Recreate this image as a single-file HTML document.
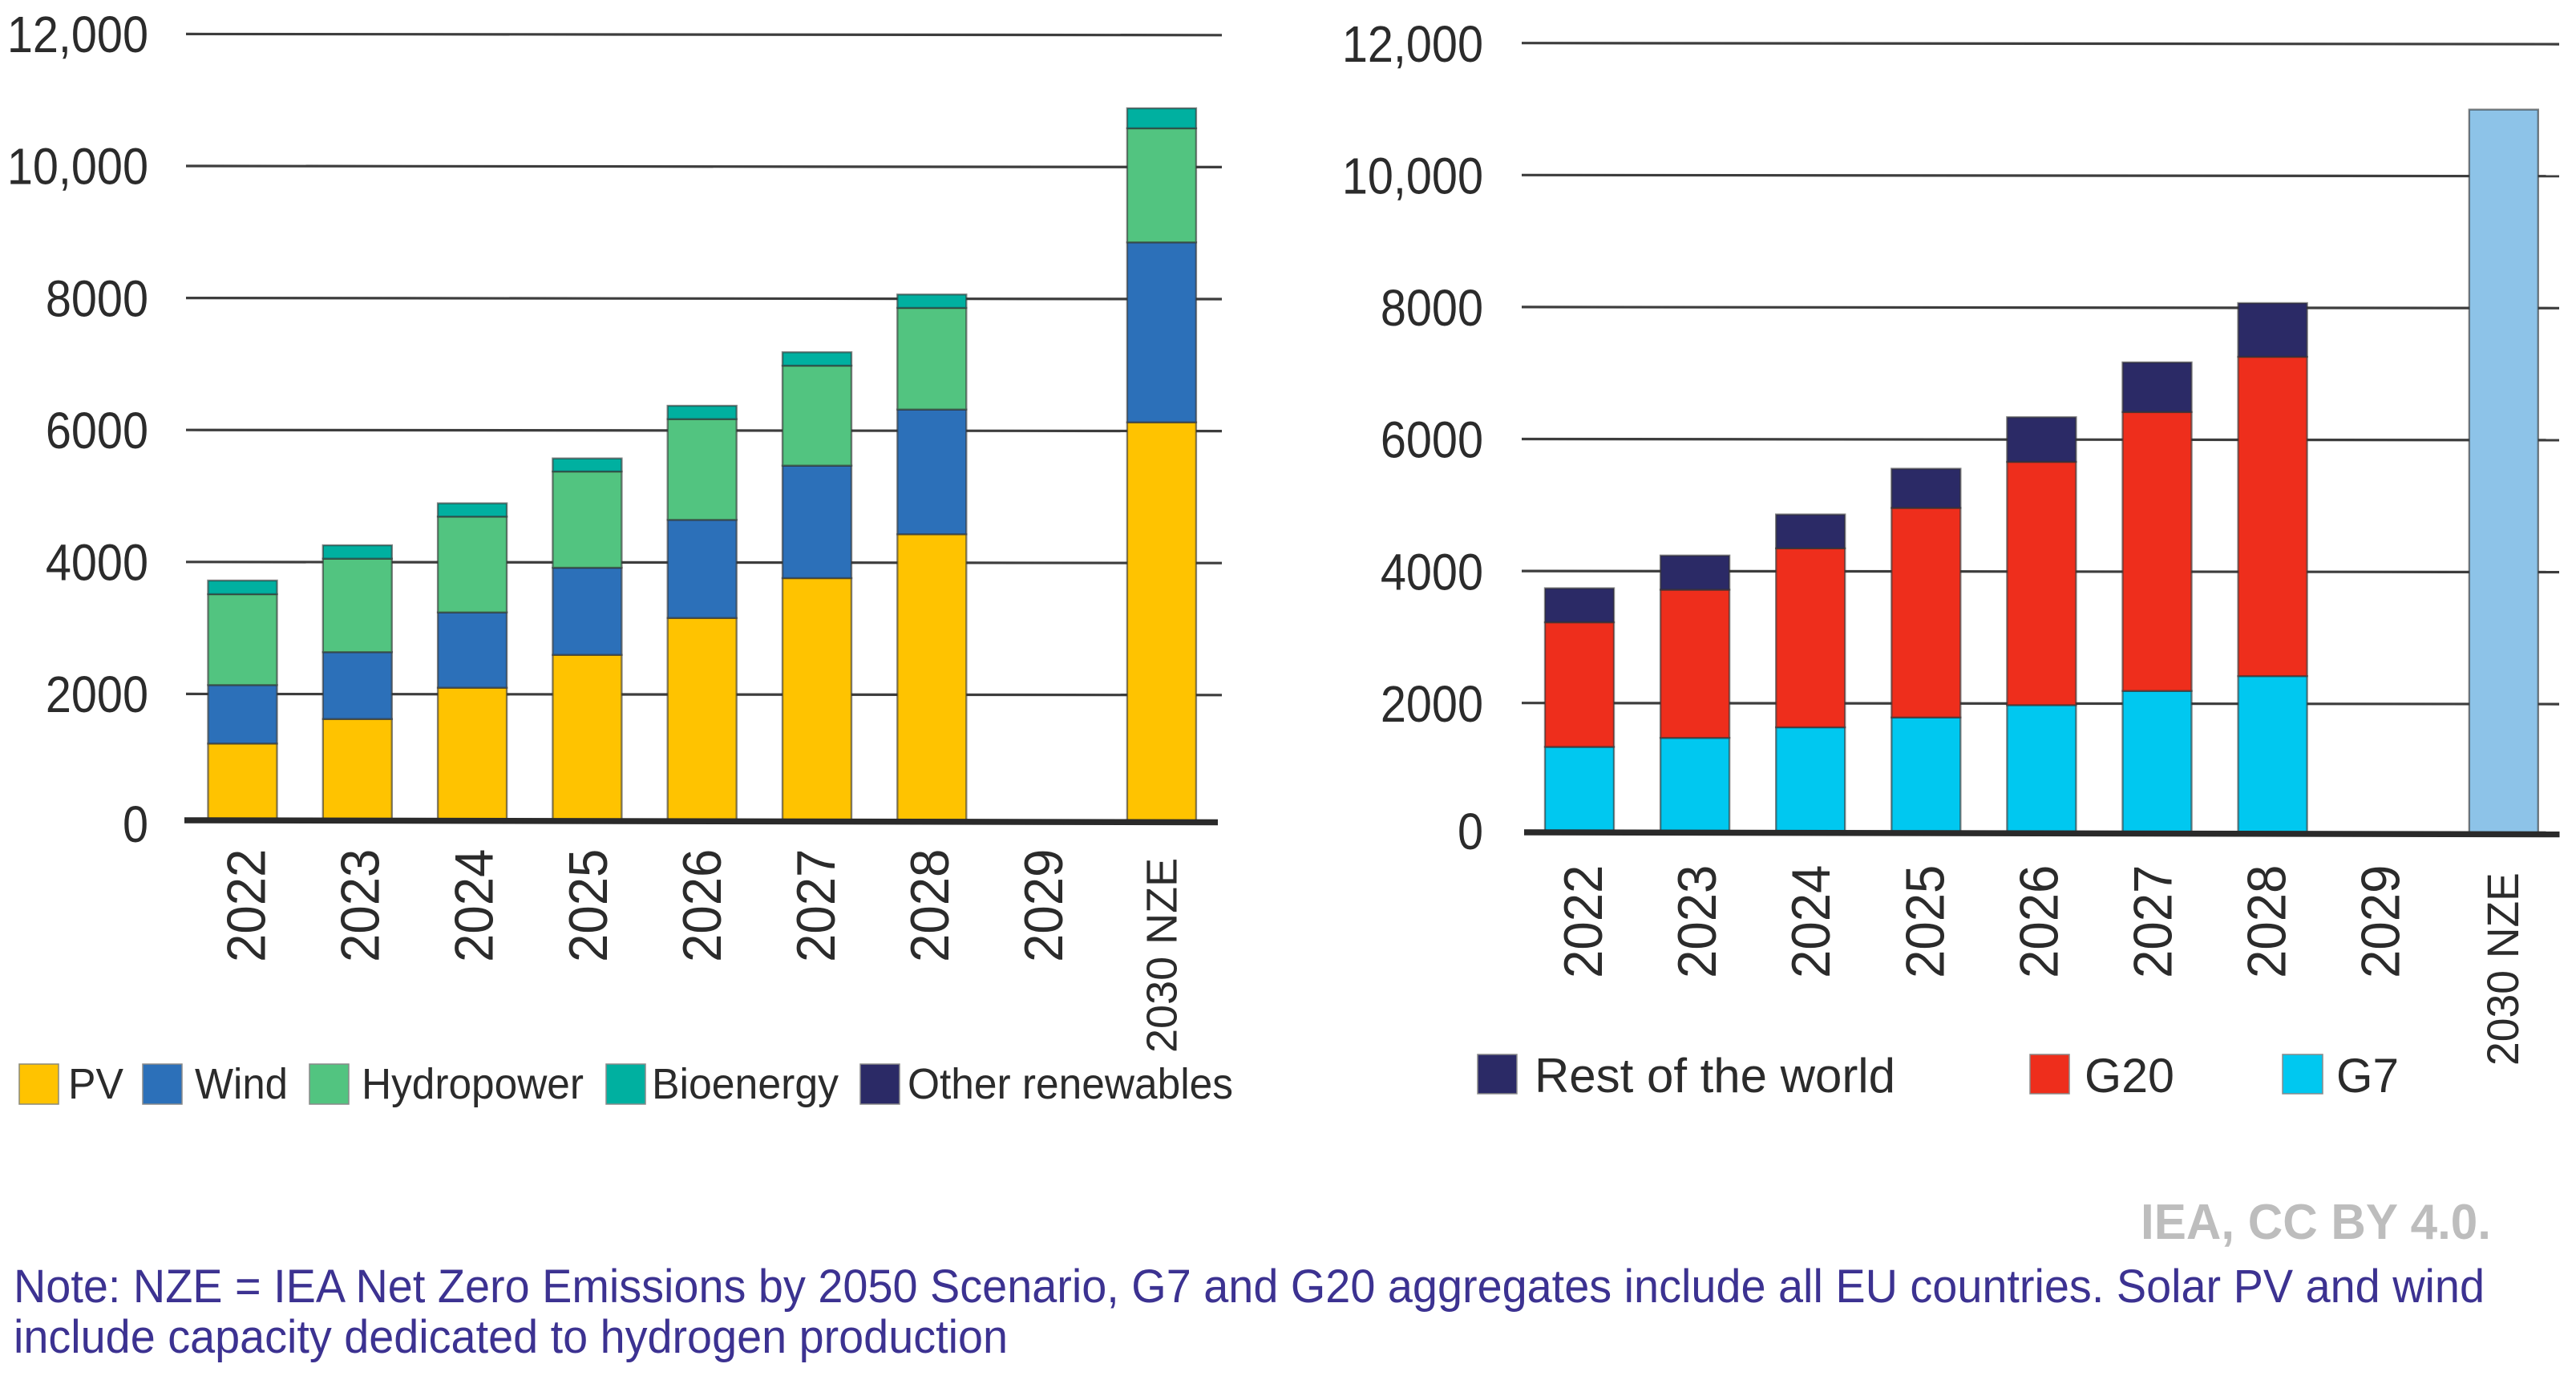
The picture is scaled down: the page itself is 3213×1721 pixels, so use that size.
<!DOCTYPE html>
<html lang="en">
<head>
<meta charset="utf-8">
<title>Renewable capacity charts</title>
<style>
html,body{margin:0;padding:0;background:#fff;}
svg{display:block;}
text{font-family:"Liberation Sans",sans-serif;fill:#2b2b2b;}
</style>
</head>
<body>
<svg id="canvas" xmlns="http://www.w3.org/2000/svg" width="3213" height="1721" viewBox="0 0 3213 1721">
  <rect x="0" y="0" width="3213" height="1721" fill="#ffffff"/>
  <g id="left-chart"></g>
  <g id="right-chart"></g>

  <g>
    <g>
      <rect x="24" y="1327" width="49" height="50" fill="#FFC300" stroke="#8a8a7a" stroke-width="1.5"/>
      <text x="85" y="1370" font-size="54" textLength="69" lengthAdjust="spacingAndGlyphs">PV</text>
    </g>
    <g>
      <rect x="178" y="1327" width="49" height="50" fill="#2C70B9" stroke="#8a8a8a" stroke-width="1.5"/>
      <text x="243" y="1370" font-size="54" textLength="116" lengthAdjust="spacingAndGlyphs">Wind</text>
    </g>
    <g>
      <rect x="386" y="1327" width="49" height="50" fill="#52C480" stroke="#8a8a8a" stroke-width="1.5"/>
      <text x="451" y="1370" font-size="54" textLength="277" lengthAdjust="spacingAndGlyphs">Hydropower</text>
    </g>
    <g>
      <rect x="756" y="1327" width="49" height="50" fill="#00B0A0" stroke="#8a8a8a" stroke-width="1.5"/>
      <text x="813" y="1370" font-size="54" textLength="233" lengthAdjust="spacingAndGlyphs">Bioenergy</text>
    </g>
    <g>
      <rect x="1073" y="1327" width="49" height="50" fill="#2B2A66" stroke="#8a8a8a" stroke-width="1.5"/>
      <text x="1132" y="1370" font-size="54" textLength="406" lengthAdjust="spacingAndGlyphs">Other renewables</text>
    </g>
  </g>

  <g>
    <g>
      <rect x="1843" y="1315" width="49" height="49" fill="#2B2A66" stroke="#8a8a8a" stroke-width="1.5"/>
      <text x="1914" y="1362" font-size="60" textLength="450" lengthAdjust="spacingAndGlyphs">Rest of the world</text>
    </g>
    <g>
      <rect x="2532" y="1315" width="49" height="49" fill="#EE2E1C" stroke="#8a8a8a" stroke-width="1.5"/>
      <text x="2600" y="1362" font-size="60" textLength="112" lengthAdjust="spacingAndGlyphs">G20</text>
    </g>
    <g>
      <rect x="2847" y="1315" width="50" height="49" fill="#00C8F0" stroke="#8a8a8a" stroke-width="1.5"/>
      <text x="2914" y="1362" font-size="60" textLength="78" lengthAdjust="spacingAndGlyphs">G7</text>
    </g>
  </g>

  <text x="2670" y="1545" font-size="62" font-weight="bold" style="fill:#BDBDBD" textLength="437" lengthAdjust="spacingAndGlyphs">IEA, CC BY 4.0.</text>
  <text x="17" y="1624" font-size="58" style="fill:#3C3291" textLength="3082" lengthAdjust="spacingAndGlyphs">Note: NZE = IEA Net Zero Emissions by 2050 Scenario, G7 and G20 aggregates include all EU countries. Solar PV and wind</text>
  <text x="17" y="1687" font-size="58" style="fill:#3C3291" textLength="1240" lengthAdjust="spacingAndGlyphs">include capacity dedicated to hydrogen production</text>
</svg>

<script>
// Shared axis data
const categories = ['2022', '2023', '2024', '2025', '2026', '2027', '2028', '2029', '2030 NZE'];
const tickValues = [0, 2000, 4000, 6000, 8000, 10000, 12000];
const tickLabels = ['0', '2000', '4000', '6000', '8000', '10,000', '12,000'];

// Left chart series
const pvValues = [1256, 1628, 2102, 2600, 3159, 3763, 4428, 0, 6124];
const windValues = [887, 1014, 1142, 1321, 1487, 1705, 1890, 0, 2727];
const hydroValues = [1377, 1416, 1451, 1458, 1527, 1515, 1540, 0, 1729];
const bioValues = [207, 203, 202, 198, 202, 203, 203, 0, 303];
const otherValues = [0, 0, 0, 0, 0, 0, 0, 0, 0];

// Right chart series
const g7Values = [1343, 1480, 1640, 1789, 1976, 2191, 2416, 0, 0];
const g20Values = [1888, 2245, 2712, 3175, 3686, 4226, 4838, 0, 0];
const restValues = [516, 518, 513, 594, 677, 753, 814, 0, 0];
const nzeValues = [0, 0, 0, 0, 0, 0, 0, 0, 11000];

const SVGNS = 'http://www.w3.org/2000/svg';

function drawChart(opts) {
  const root = document.getElementById(opts.rootId);
  const yScale = function (v) { return opts.zeroY - v * opts.pxPerUnit; };
  const xBand = function (i) { return opts.firstCenter + opts.step * i; };

  // Gridlines and y tick labels
  tickValues.forEach(function (v, i) {
    if (v !== 0) {
      const line = document.createElementNS(SVGNS, 'line');
      
      
      line.setAttribute('x1', opts.gridLeft);
      line.setAttribute('x2', opts.gridRight);
      line.setAttribute('y1', yScale(v) - 0.7);
      line.setAttribute('y2', yScale(v) + 0.7);
      line.setAttribute('stroke', '#3d3d3d');
      line.setAttribute('stroke-width', '3.2');
      root.appendChild(line);
    }
    const label = document.createElementNS(SVGNS, 'text');
    
    
    label.setAttribute('font-size', '64');
    label.setAttribute('text-anchor', 'end');
    const labelY = v === 0 ? opts.axisY + opts.zeroLabelOffset : yScale(v) + opts.tickLabelOffset;
    label.setAttribute('transform', 'translate(' + opts.labelRight + ',' + labelY + ') scale(0.9,1)');
    label.textContent = tickLabels[i];
    root.appendChild(label);
  });

  // Stacked bars
  categories.forEach(function (cat, i) {
    let cum = 0;
    opts.series.forEach(function (s) {
      const val = s.values[i];
      const bottom = cum === 0 ? opts.axisY : yScale(cum);
      cum += val;
      const top = val === 0 ? bottom : yScale(cum);
      const bar = document.createElementNS(SVGNS, 'rect');
      
      
      bar.setAttribute('x', xBand(i) - opts.barWidth / 2);
      bar.setAttribute('width', opts.barWidth);
      bar.setAttribute('y', top);
      bar.setAttribute('height', Math.max(0, bottom - top));
      bar.setAttribute('fill', s.color);
      bar.setAttribute('stroke', val === 0 ? 'none' : 'rgba(50,50,50,0.6)');
      bar.setAttribute('stroke-width', '2.4');
      root.appendChild(bar);
    });
  });

  // Baseline
  const axis = document.createElementNS(SVGNS, 'line');
  
  
  axis.setAttribute('x1', opts.axisLeft);
  axis.setAttribute('x2', opts.axisRight);
  axis.setAttribute('y1', opts.axisY - 1);
  axis.setAttribute('y2', opts.axisY + 1.5);
  axis.setAttribute('stroke', '#2a2a2a');
  axis.setAttribute('stroke-width', '7.5');
  root.appendChild(axis);

  // Rotated category labels
  categories.forEach(function (cat, i) {
    const isNze = cat.indexOf('NZE') >= 0;
    const tick = document.createElementNS(SVGNS, 'text');
    
    
    const tx = isNze ? opts.nzeLabelX : opts.yearLabelX + opts.labelStep * i;
    const ty = isNze ? opts.nzeLabelStart : opts.yearLabelStart;
    tick.setAttribute('font-size', isNze ? opts.nzeFont : '68');
    tick.setAttribute('transform', 'translate(' + tx + ',' + ty + ') rotate(-90) scale(' + (isNze ? opts.nzeScale : 0.935) + ',1)');
    tick.textContent = cat;
    root.appendChild(tick);
  });
}

drawChart({
  rootId: 'left-chart',
  zeroY: 1030.7,
  pxPerUnit: 0.0823,
  axisY: 1024,
  zeroLabelOffset: 26,
  tickLabelOffset: 22,
  firstCenter: 302.5,
  step: 143.3,
  barWidth: 86,
  gridLeft: 232,
  gridRight: 1524,
  axisLeft: 230,
  axisRight: 1519,
  labelRight: 185,
  yearLabelX: 330.5,
  labelStep: 142.1,
  yearLabelStart: 1200,
  nzeLabelX: 1467.5,
  nzeLabelStart: 1313,
  nzeFont: '54',
  nzeScale: 1,
  series: [
    { key: 'pv', values: pvValues, color: '#FFC300' },
    { key: 'wind', values: windValues, color: '#2C70B9' },
    { key: 'hydropower', values: hydroValues, color: '#52C480' },
    { key: 'bioenergy', values: bioValues, color: '#00B0A0' },
    { key: 'other-renewables', values: otherValues, color: '#2B2A66' }
  ]
});

drawChart({
  rootId: 'right-chart',
  zeroY: 1042,
  pxPerUnit: 0.0823,
  axisY: 1039,
  zeroLabelOffset: 20,
  tickLabelOffset: 22.5,
  firstCenter: 1970,
  step: 144.1,
  barWidth: 86,
  gridLeft: 1898,
  gridRight: 3192,
  axisLeft: 1901,
  axisRight: 3192.5,
  labelRight: 1850,
  yearLabelX: 1998,
  labelStep: 142.1,
  yearLabelStart: 1220,
  nzeLabelX: 3141,
  nzeLabelStart: 1329,
  nzeFont: '56',
  nzeScale: 0.955,
  series: [
    { key: 'g7', values: g7Values, color: '#00C8F0' },
    { key: 'g20', values: g20Values, color: '#EE2E1C' },
    { key: 'rest-of-world', values: restValues, color: '#2B2A66' },
    { key: 'nze', values: nzeValues, color: '#8DC3E8' }
  ]
});
</script>
</body>
</html>
